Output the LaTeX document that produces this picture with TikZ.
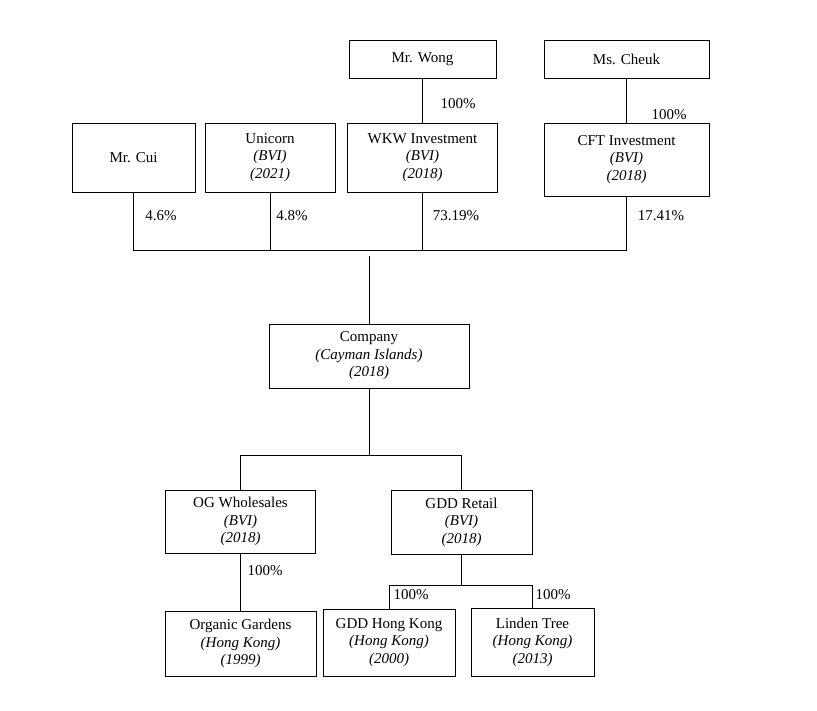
\documentclass[tikz,border=0pt]{standalone}
\usepackage{fontspec}
\setmainfont{Liberation Serif}

\begin{document}
\begin{tikzpicture}[x=1pt,y=-1pt,
  box/.style={draw,line width=0.9pt,align=center,inner sep=0pt,
    font=\fontsize{15}{17.5}\selectfont},
  pct/.style={inner sep=0pt,font=\fontsize{15}{17.5}\selectfont},
  link/.style={line width=0.9pt}]
  \useasboundingbox (0,0) rectangle (817,710);
  % owners at the top
  \node[box,minimum width=147pt,minimum height=38pt] (wong) at (422.5,59) {Mr. Wong};
  \node[box,minimum width=165pt,minimum height=38pt] (cheuk) at (626.5,59) {Ms. Cheuk};
  \node[box,minimum width=123pt,minimum height=69pt] (cui) at (133.5,157.5) {Mr. Cui};
  \node[box,minimum width=130pt,minimum height=69pt] (unicorn) at (270,157.5)
    {Unicorn\\\textit{(BVI)}\\\textit{(2021)}};
  \node[box,minimum width=150pt,minimum height=69pt] (wkw) at (422.5,157.5)
    {WKW Investment\\\textit{(BVI)}\\\textit{(2018)}};
  \node[box,minimum width=165pt,minimum height=73pt] (cft) at (626.5,159.5)
    {CFT Investment\\\textit{(BVI)}\\\textit{(2018)}};
  % listed company
  \node[box,minimum width=200pt,minimum height=64pt] (company) at (369,356)
    {Company\\\textit{(Cayman Islands)}\\\textit{(2018)}};
  % subsidiaries
  \node[box,minimum width=150pt,minimum height=63pt] (ogw) at (240.5,521.5)
    {OG Wholesales\\\textit{(BVI)}\\\textit{(2018)}};
  \node[box,minimum width=141pt,minimum height=64pt] (gddr) at (461.5,522)
    {GDD Retail\\\textit{(BVI)}\\\textit{(2018)}};
  \node[box,minimum width=151pt,minimum height=65pt] (organic) at (240.5,643.5)
    {Organic Gardens\\\textit{(Hong Kong)}\\\textit{(1999)}};
  \node[box,minimum width=132pt,minimum height=67pt] (gddhk) at (389,642.5)
    {GDD Hong Kong\\\textit{(Hong Kong)}\\\textit{(2000)}};
  \node[box,minimum width=123pt,minimum height=68pt] (linden) at (532.5,642)
    {Linden Tree\\\textit{(Hong Kong)}\\\textit{(2013)}};
  % bar heights
  \coordinate (topbar) at (0,250);
  \coordinate (feed) at (369,256);
  \coordinate (midbar) at (0,455);
  \coordinate (lowbar) at (0,585);
  % connectors
  \draw[link] (wong) -- (wkw);
  \draw[link] (cheuk) -- (cft);
  \draw[link] (cui.south) -- (cui.south |- topbar) -- (cft.south |- topbar) -- (cft.south);
  \draw[link] (unicorn.south) -- (unicorn.south |- topbar);
  \draw[link] (wkw.south) -- (wkw.south |- topbar);
  \draw[link] (feed) -- (company.north);
  \draw[link] (company.south) -- (company.south |- midbar);
  \draw[link] (ogw.north) |- (gddr.north |- midbar) -- (gddr.north);
  \draw[link] (ogw) -- (organic);
  \draw[link] (gddr.south) -- (gddr.south |- lowbar);
  \draw[link] (gddhk.north) |- (linden.north |- lowbar) -- (linden.north);
  % holdings
  \node[pct] (pwong) at (458,104) {100\%};
  \node[pct] (pcheuk) at (669,115) {100\%};
  \node[pct] (pcui) at (161,216) {4.6\%};
  \node[pct] (punicorn) at (292,216) {4.8\%};
  \node[pct] (pwkw) at (456,216) {73.19\%};
  \node[pct] (pcft) at (661,216) {17.41\%};
  \node[pct] (porganic) at (265,571) {100\%};
  \node[pct] (pgddhk) at (411,595) {100\%};
  \node[pct] (plinden) at (553,595) {100\%};
\end{tikzpicture}
\end{document}
